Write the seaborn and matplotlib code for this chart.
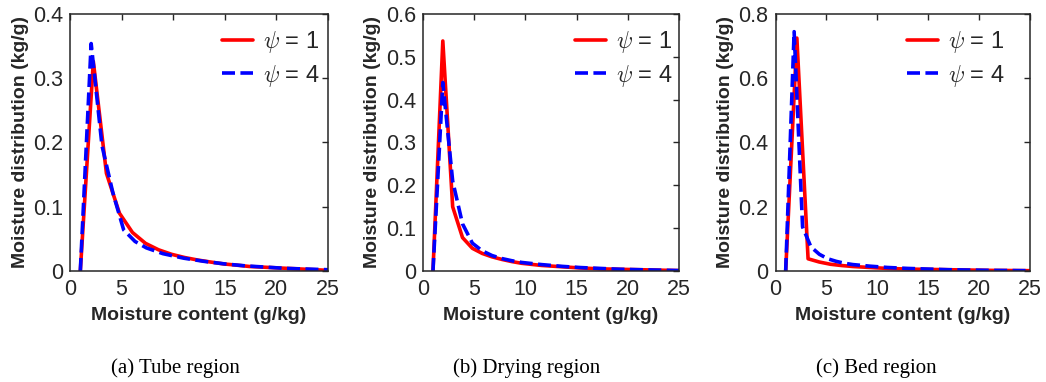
import matplotlib
matplotlib.use("Agg")
import matplotlib.pyplot as plt
import numpy as np
import pandas as pd
import seaborn as sns
from matplotlib.ticker import FuncFormatter, MultipleLocator

# ---------------- data ----------------
series_labels = [r"$\psi$ = 1", r"$\psi$ = 4"]
captions = ["(a) Tube region", "(b) Drying region", "(c) Bed region"]
xlabel = "Moisture content (g/kg)"
ylabel = "Moisture distribution (kg/g)"

# (a) Tube region
tube_x1 = [1, 2.26, 3.53, 4.79, 6.05, 7.32, 8.58, 9.84, 11.1, 12.4, 13.6, 14.9,
           16.2, 17.4, 18.7, 19.9, 21.2, 22.5, 23.7, 25]
tube_y1 = [0, 0.326, 0.152, 0.090, 0.060, 0.043, 0.033, 0.026, 0.021, 0.017, 0.014,
           0.011, 0.009, 0.007, 0.006, 0.005, 0.004, 0.003, 0.002, 0.001]
tube_x4 = [1, 2.05, 3.1, 4.15, 5.2, 6.3, 7.4, 9, 11, 13, 15, 17, 19, 21, 23, 25]
tube_y4 = [0, 0.354, 0.195, 0.122, 0.064, 0.046, 0.036, 0.027, 0.020, 0.015, 0.011,
           0.008, 0.006, 0.004, 0.003, 0.002]

# (b) Drying region
dry_x1 = [1, 1.96, 2.92, 3.88, 4.84, 5.8, 6.76, 7.72, 8.68, 9.64, 11.56, 13.48,
          15.4, 17.32, 19.24, 21.16, 23.08, 25]
dry_y1 = [0, 0.537, 0.150, 0.078, 0.053, 0.041, 0.033, 0.027, 0.022, 0.018, 0.013,
          0.010, 0.007, 0.005, 0.004, 0.003, 0.002, 0.001]
dry_x4 = [1, 1.96, 2.92, 3.88, 4.84, 5.8, 6.76, 7.72, 8.68, 9.64, 11.56, 13.48,
          15.4, 17.32, 19.24, 21.16, 23.08, 25]
dry_y4 = [0, 0.440, 0.210, 0.110, 0.065, 0.047, 0.036, 0.029, 0.024, 0.020, 0.015,
          0.011, 0.008, 0.006, 0.004, 0.003, 0.002, 0.001]

# (c) Bed region
bed_x1 = [1, 2.1, 3.2, 4.3, 5.4, 6.5, 7.6, 8.7, 9.8, 11, 13, 15, 17, 19, 21, 23, 25]
bed_y1 = [0, 0.725, 0.038, 0.028, 0.021, 0.017, 0.014, 0.012, 0.010, 0.008, 0.006,
          0.005, 0.004, 0.003, 0.002, 0.0015, 0.001]
bed_x4 = [1, 1.83, 2.66, 3.48, 4.31, 5.14, 5.97, 6.8, 7.6, 9.3, 11, 13, 15, 17, 19,
          21, 23, 25]
bed_y4 = [0, 0.745, 0.137, 0.075, 0.052, 0.038, 0.030, 0.024, 0.020, 0.015, 0.011,
          0.008, 0.006, 0.004, 0.003, 0.002, 0.0015, 0.001]

y_max = [0.4, 0.6, 0.8]
y_step = [0.1, 0.1, 0.2]

# ---------------- style ----------------
sns.set_theme(style="white")
plt.rcParams["font.family"] = ["Liberation Sans", "DejaVu Sans"]
plt.rcParams["mathtext.fontset"] = "cm"

W, H = 1046, 382
fig = plt.figure(figsize=(W / 100, H / 100), dpi=100)

ax_px = [(70, 258), (422.7, 256.6), (775.5, 254.5)]  # left, width in px
ax_top, ax_bot = 14, 271
legend_left_px = [222, 575, 907]
caption_x_px = [175, 527, 876]

panels = [
    (tube_x1, tube_y1, tube_x4, tube_y4),
    (dry_x1, dry_y1, dry_x4, dry_y4),
    (bed_x1, bed_y1, bed_x4, bed_y4),
]

dark = "#262626"
for i, (x1, y1, x4, y4) in enumerate(panels):
    left, width = ax_px[i]
    ax = fig.add_axes([left / W, (H - ax_bot) / H, width / W, (ax_bot - ax_top) / H])
    df = pd.DataFrame({
        "x": list(x1) + list(x4),
        "y": list(y1) + list(y4),
        "series": [series_labels[0]] * len(x1) + [series_labels[1]] * len(x4),
    })
    sns.lineplot(
        data=df, x="x", y="y", hue="series", style="series",
        palette={series_labels[0]: "#ff0000", series_labels[1]: "#0000ff"},
        dashes={series_labels[0]: "", series_labels[1]: (3.6, 1.5)},
        estimator=None, sort=False, linewidth=2.6, ax=ax,
    )
    ax.set_xlim(0, 25)
    ax.set_ylim(0, y_max[i])
    ax.xaxis.set_major_locator(MultipleLocator(5))
    ax.yaxis.set_major_locator(MultipleLocator(y_step[i]))
    ax.yaxis.set_major_formatter(FuncFormatter(lambda v, p: f"{v:g}"))
    ax.tick_params(direction="in", length=4, width=1, top=True, right=True,
                   labelsize=15.5, colors=dark)
    ax.tick_params(axis="x", pad=6)
    ax.tick_params(axis="y", pad=5)
    for s in ax.spines.values():
        s.set_color(dark)
        s.set_linewidth(1.1)
    ax.set_xlabel(xlabel, fontsize=14, fontweight="bold", color=dark, labelpad=5)
    ax.set_ylabel(ylabel, fontsize=14, fontweight="bold", color=dark, labelpad=3)
    handles, labels = ax.get_legend_handles_labels()
    ax.legend(handles, labels, loc="upper left",
              bbox_to_anchor=((legend_left_px[i] - left) / width, 0.94),
              frameon=False, fontsize=17, handlelength=1.3, handletextpad=0.45,
              labelspacing=0.3, borderpad=0, borderaxespad=0)
    fig.text(caption_x_px[i] / W, (H - 368) / H, captions[i], ha="center", va="center",
             fontsize=15, family="Liberation Serif", color="black")

fig.savefig("out.png", dpi=100)
